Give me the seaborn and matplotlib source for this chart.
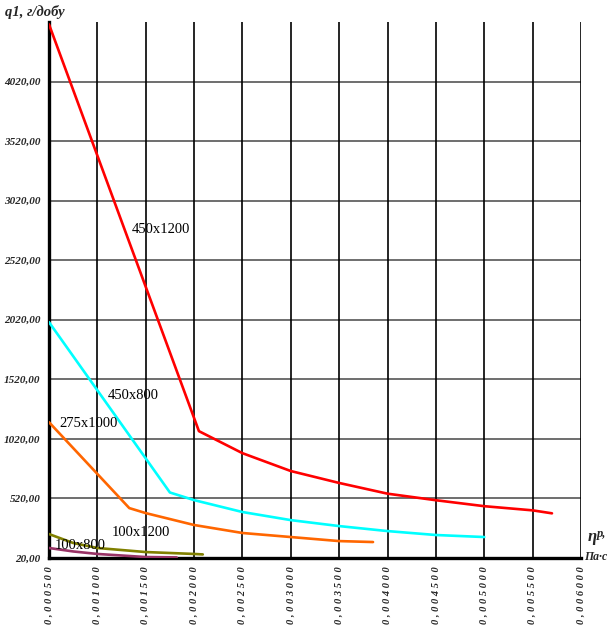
import numpy as np
import pandas as pd
import matplotlib
matplotlib.use("Agg")
import matplotlib.pyplot as plt
import seaborn as sns

# values
x_450x1200 = [0.0005, 0.00205, 0.0025, 0.0030, 0.0035, 0.0040, 0.0045, 0.0050, 0.0055, 0.0057]
y_450x1200 = [4500, 1085, 900, 750, 650, 560, 505, 455, 420, 395]

x_450x800 = [0.0005, 0.00175, 0.0020, 0.0025, 0.0030, 0.0035, 0.0040, 0.0045, 0.0050]
y_450x800 = [2000, 570, 506, 406, 338, 288, 246, 213, 196]

x_275x1000 = [0.0005, 0.00133, 0.0015, 0.0020, 0.0025, 0.0030, 0.0035, 0.00385]
y_275x1000 = [1160, 439, 397, 297, 230, 196, 162, 154]

x_100x1200 = [0.0005, 0.00075, 0.0010, 0.0015, 0.0020, 0.00209]
y_100x1200 = [221, 146, 104, 70, 54, 50]

x_100x800 = [0.0005, 0.00075, 0.0010, 0.0015, 0.00182]
y_100x800 = [104, 75, 54, 28, 25]

series = {
    "450x1200": (x_450x1200, y_450x1200),
    "450x800": (x_450x800, y_450x800),
    "275x1000": (x_275x1000, y_275x1000),
    "100x1200": (x_100x1200, y_100x1200),
    "100x800": (x_100x800, y_100x800),
}
colors = {
    "450x1200": "#FF0000",
    "450x800": "#00FFFF",
    "275x1000": "#FF6600",
    "100x1200": "#808000",
    "100x800": "#993366",
}

x_ticks = [0.0005 * i for i in range(1, 13)]
y_ticks = [20 + 500 * i for i in range(9)]

rows = []
for name, (xs, ys) in series.items():
    for xv, yv in zip(xs, ys):
        rows.append({"x": xv, "y": yv, "series": name})
df = pd.DataFrame(rows)

sns.set_theme(style="white")
plt.rcParams["font.family"] = ["Liberation Serif", "DejaVu Serif"]

fig = plt.figure(figsize=(6.10, 6.31), dpi=100)
ax = fig.add_axes([49 / 610, 1 - 558 / 631, (581 - 49) / 610, (558 - 22) / 631])

# grid
for yv in y_ticks[1:]:
    ax.axhline(yv, color="#555555", lw=1.2, zorder=1)
for xv in x_ticks[1:]:
    ax.axvline(xv, color="black", lw=1.2, zorder=1)

sns.lineplot(data=df, x="x", y="y", hue="series", palette=colors,
             sort=False, estimator=None, lw=1.9, legend=False, ax=ax, zorder=3)

ax.set_xlim(0.0005, 0.006)
ax.set_ylim(20, 4520)
ax.set_xticks(x_ticks)
ax.set_yticks(y_ticks)
ax.set_xticklabels([" ".join(f"{v:.6f}".replace(".", ",")) for v in x_ticks],
                   rotation=90, fontsize=7.5, fontweight="bold", fontstyle="italic")
ax.set_yticklabels([f"{v:.2f}".replace(".", ",") for v in y_ticks],
                   fontsize=8, fontweight="bold", fontstyle="italic")
ax.tick_params(axis="both", length=3, width=2, color="black", direction="out", pad=3)
ax.set_xlabel("")
ax.set_ylabel("")

for side in ["top", "right"]:
    ax.spines[side].set_visible(False)
ax.spines["left"].set_linewidth(2.4)
ax.spines["bottom"].set_linewidth(2.4)
ax.spines["left"].set_color("black")
ax.spines["bottom"].set_color("black")

# series labels
labels = [
    ("450x1200", 0.00136, 2778),
    ("450x800", 0.00111, 1386),
    ("275x1000", 0.00061, 1152),
    ("100x1200", 0.00115, 230),
    ("100x800", 0.00056, 129),
]
for text, lx, ly in labels:
    ax.text(lx, ly, text, fontsize=10.5, va="center", ha="left", color="black", zorder=4)

fig.text(5 / 610, 1 - 12 / 631, "q1, г/добу", fontsize=10.5, fontweight="bold",
         fontstyle="italic", va="center", ha="left")
fig.text(588 / 610, 1 - 537 / 631, "η", fontsize=12, fontweight="bold",
         fontstyle="italic", va="center", ha="left")
fig.text(597 / 610, 1 - 534 / 631, "р,", fontsize=9, fontweight="bold",
         fontstyle="italic", va="center", ha="left")
fig.text(584 / 610, 1 - 557 / 631, "Па·с", fontsize=8.5, fontweight="bold",
         fontstyle="italic", va="center", ha="left")

fig.savefig("out.png", dpi=100)
